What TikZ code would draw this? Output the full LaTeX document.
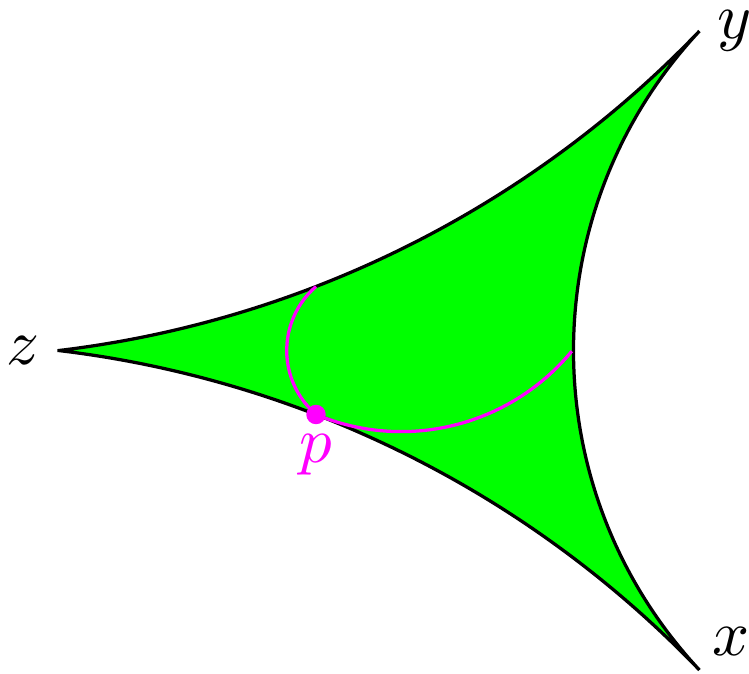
\documentclass[tikz,border=0pt]{standalone}
\usetikzlibrary{calc}
\definecolor{fillgreen}{RGB}{0,255,0}
\definecolor{mag}{RGB}{255,0,255}
\begin{document}
\begin{tikzpicture}[x=0.154pt,y=0.154pt,
  edge/.style={draw=black,line width=0.5pt,line join=miter},
  geo/.style={draw=mag,line width=0.5pt},
  lbl/.style={inner sep=3.33pt}]
\useasboundingbox (0,0) rectangle (749,673);
% vertices
\coordinate (z) at (59,322.5);
\coordinate (y) at (699,642);
\coordinate (x) at (699,3);
\coordinate (p) at (316,258.5);
\coordinate (q) at (316,386.5);
% ideal triangle
\path[edge,fill=fillgreen]
  (z) arc[start angle=-83.18,end angle=-43.8,radius=1062.1]
  arc[start angle=136.96,end angle=223.04,radius=468.1]
  arc[start angle=43.8,end angle=83.18,radius=1062.1] -- cycle;
% magenta geodesics through p
\draw[geo] (q) arc[start angle=130.8,end angle=229.2,radius=84.5];
\draw[geo] (p) arc[start angle=247.3,end angle=320.5,radius=221];
\fill[mag] (p) circle[radius=1.5pt];
% labels
\node[lbl,anchor=east] (zl) at ($(z)+(3,0)$) {$z$};
\node[lbl,anchor=west] (yl) at ($(y)+(-4,0)$) {$y$};
\node (xl) at (731,31) {$x$};
\node[lbl,anchor=north,text=mag] (pl) at ($(p)+(0,3)$) {$p$};
\end{tikzpicture}
\end{document}
